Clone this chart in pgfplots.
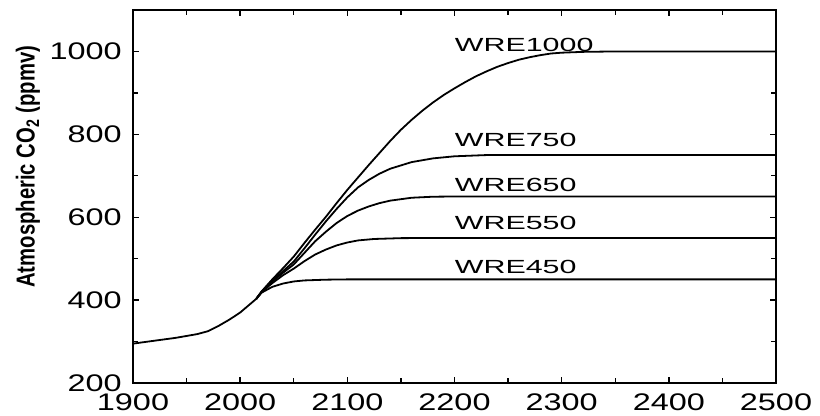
\documentclass[border=0pt]{standalone}
\usepackage{pgfplots}
\pgfplotsset{compat=1.18}
\usepackage{fontspec}
\setmainfont{Liberation Sans}
\newfontfamily\tickfont{Liberation Sans}[FakeStretch=1.35]
\newfontfamily\labfont{Liberation Sans}[FakeStretch=1.6]
\newfontfamily\ylabfont{Liberation Sans Bold}[FakeStretch=0.78]

% shared historical record and the WRE stabilisation pathways
\pgfplotstableread{
year co2
1900 295
1920 302
1940 309
1960 318
1970 325
1980 338
1990 353
2000 370
2010 392
2015 403
}\hist

\begin{document}
\begin{tikzpicture}
\path (-66.5pt,-16.5pt) rectangle (343.5pt,191.5pt);
\begin{axis}[
    scale only axis,
    width=321.5pt, height=186.5pt,
    xmin=1900, xmax=2500, ymin=200, ymax=1100,
    xtick={1900,2000,...,2500},
    ytick={200,400,...,1000},
    minor xtick={1950,2050,...,2450},
    minor ytick={300,500,...,900},
    tick align=inside,
    major tick length=3pt, minor tick length=2.5pt,
    every tick/.style={black, line width=0.7pt},
    axis line style={line width=1pt},
    /pgf/number format/.cd, 1000 sep={}, assume math mode=true,
    /pgfplots/.cd,
    tick label style={font=\tickfont\fontsize{12}{13}\selectfont},
    yticklabel style={inner sep=0pt, xshift=-5.5pt},
    xticklabel style={inner sep=0pt, yshift=-5pt},
    ylabel={Atmospheric CO\textsubscript{2} (ppmv)},
    ylabel style={font=\ylabfont\fontsize{13}{14}\selectfont, at={(rel axis cs:0,0.58)}, yshift=52.5pt, anchor=center},
    clip=false,
]
\addplot[black, line width=0.9pt] table[x=year, y=co2] {\hist};
\addplot[black, line width=0.9pt] coordinates {
(2015,403) (2020,418) (2030,432) (2040,440) (2050,445) (2060,447.5) (2080,449.3) (2100,450) (2500,450)};
\addplot[black, line width=0.9pt] coordinates {
(2015,403) (2020,419) (2030,441) (2040,460) (2050,476) (2060,494) (2070,510) (2080,522) (2090,532) (2100,539) (2110,544) (2125,547.5) (2150,549.5) (2180,550) (2500,550)};
\addplot[black, line width=0.9pt] coordinates {
(2015,403) (2020,420) (2030,445) (2040,466) (2050,486) (2060,514) (2070,542) (2080,565) (2090,586) (2100,603) (2110,616) (2120,626) (2130,634) (2140,640) (2160,647) (2180,649.5) (2200,650) (2500,650)};
\addplot[black, line width=0.9pt] coordinates {
(2015,403) (2020,420) (2030,447) (2040,470) (2050,493) (2060,525) (2070,558) (2080,590) (2090,620) (2100,648) (2110,672) (2120,690) (2130,705) (2140,717) (2160,733) (2180,742) (2200,747) (2230,750) (2500,750)};
\addplot[black, line width=0.9pt] coordinates {
(2015,403) (2020,421) (2030,450) (2040,477) (2050,505) (2060,538) (2070,570) (2080,601) (2090,634) (2100,666) (2110,696) (2120,726) (2130,755) (2140,784) (2150,811) (2160,835) (2170,857) (2180,877) (2190,895) (2200,911) (2210,926) (2220,940) (2230,952) (2240,963) (2250,972) (2260,980) (2270,986) (2280,991) (2290,995) (2300,997) (2320,999) (2350,1000) (2500,1000)};
\foreach \lab/\yy in {WRE1000/1016, WRE750/787, WRE650/678, WRE550/586, WRE450/480}{
  \edef\tmp{\noexpand\node[anchor=west, inner sep=0pt, font=\noexpand\labfont\noexpand\fontsize{9.5}{11}\noexpand\selectfont] at (axis cs:2200,\yy) {\lab};}
  \tmp
}
\end{axis}
\end{tikzpicture}
\end{document}
